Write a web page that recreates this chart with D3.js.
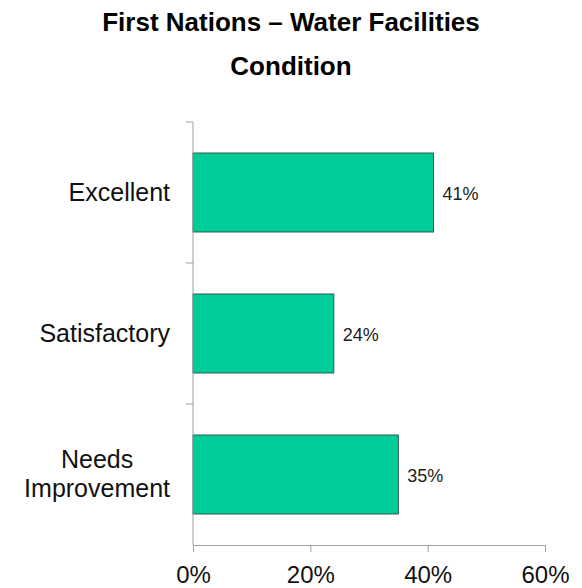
<!DOCTYPE html>
<html>
<head>
  <meta charset="utf-8">
  <script src="https://d3js.org/d3.v7.min.js"></script>
  <style>
    body { margin: 0; background: #fff; }
    text { font-family: Arial, "Liberation Sans", sans-serif; }
  </style>
</head>
<body>
<script>
  // chart data
  var categories = ["Excellent", "Satisfactory", "Needs Improvement"];
  var values = [0.41, 0.24, 0.35];
  var valueLabels = ["41%", "24%", "35%"];
  var tickValues = [0, 0.2, 0.4, 0.6];
  var tickLabels = ["0%", "20%", "40%", "60%"];
  var titleLines = ["First Nations \u2013 Water Facilities", "Condition"];

  var width = 582, height = 588;
  var plotLeft = 193, plotRight = 545, plotTop = 122, plotBottom = 545;

  var svg = d3.select("body").append("svg")
      .attr("width", width)
      .attr("height", height);

  // title
  svg.selectAll("text.title")
      .data(titleLines)
    .enter().append("text")
      .attr("class", "title")
      .attr("x", 291)
      .attr("y", function(d, i) { return 31 + i * 44; })
      .attr("text-anchor", "middle")
      .attr("font-size", 26)
      .attr("font-weight", "bold")
      .attr("fill", "#000")
      .text(function(d) { return d; });

  var x = d3.scaleLinear().domain([0, 0.6]).range([plotLeft, plotRight]);
  var y = d3.scaleBand().domain(categories).range([plotTop, plotBottom])
      .paddingInner(0.44).paddingOuter(0.22);

  // bars
  svg.selectAll("rect.bar")
      .data(values)
    .enter().append("rect")
      .attr("class", "bar")
      .attr("x", x(0))
      .attr("y", function(d, i) { return y(categories[i]); })
      .attr("width", function(d) { return x(d) - x(0); })
      .attr("height", y.bandwidth())
      .attr("fill", "#00cc99")
      .attr("stroke", "#2b5a4a")
      .attr("stroke-width", 1);

  // value labels
  svg.selectAll("text.val")
      .data(values)
    .enter().append("text")
      .attr("class", "val")
      .attr("x", function(d) { return x(d) + 9; })
      .attr("y", function(d, i) { return y(categories[i]) + y.bandwidth() / 2 + 7; })
      .attr("font-size", 18)
      .attr("fill", "#222")
      .text(function(d, i) { return valueLabels[i]; });

  // y axis line + boundary ticks (none at the bottom corner)
  var step = y.step();
  var axisColor = "#a0a0a0";
  svg.append("line")
      .attr("x1", plotLeft).attr("x2", plotLeft)
      .attr("y1", plotTop).attr("y2", plotBottom)
      .attr("stroke", axisColor);
  d3.range(categories.length).forEach(function(i) {
    var yy = plotTop + i * step;
    svg.append("line")
        .attr("x1", plotLeft - 7).attr("x2", plotLeft)
        .attr("y1", yy).attr("y2", yy)
        .attr("stroke", axisColor);
  });

  // x axis
  var xAxis = svg.append("g")
      .attr("transform", "translate(0," + plotBottom + ")")
      .call(d3.axisBottom(x).tickValues(tickValues).tickSize(7).tickSizeOuter(0)
        .tickFormat(function(d, i) { return tickLabels[i]; }));
  xAxis.select(".domain").attr("stroke", axisColor);
  xAxis.selectAll(".tick line").attr("stroke", axisColor);
  xAxis.selectAll(".tick text")
      .attr("font-size", 24)
      .attr("font-family", "Arial, 'Liberation Sans', sans-serif")
      .attr("fill", "#111")
      .attr("dy", null)
      .attr("y", 38);

  // category labels
  var labelRight = 170;
  categories.forEach(function(c) {
    var words = c.split(" ");
    var lines = words.length > 1 ? words : [c];
    var cy = y(c) + y.bandwidth() / 2;
    var lh = 29.5;
    var g = svg.append("text")
        .attr("font-size", 25)
        .attr("fill", "#111");
    lines.forEach(function(l, i) {
      g.append("tspan")
          .attr("y", cy + 8 + (i - (lines.length - 1) / 2) * lh)
          .text(l);
    });
    // right-align the block, centre the lines within it
    var widths = [];
    g.selectAll("tspan").each(function() { widths.push(this.getComputedTextLength()); });
    var maxW = d3.max(widths);
    g.attr("text-anchor", "middle")
      .selectAll("tspan").attr("x", labelRight - maxW / 2);
  });
</script>
</body>
</html>
